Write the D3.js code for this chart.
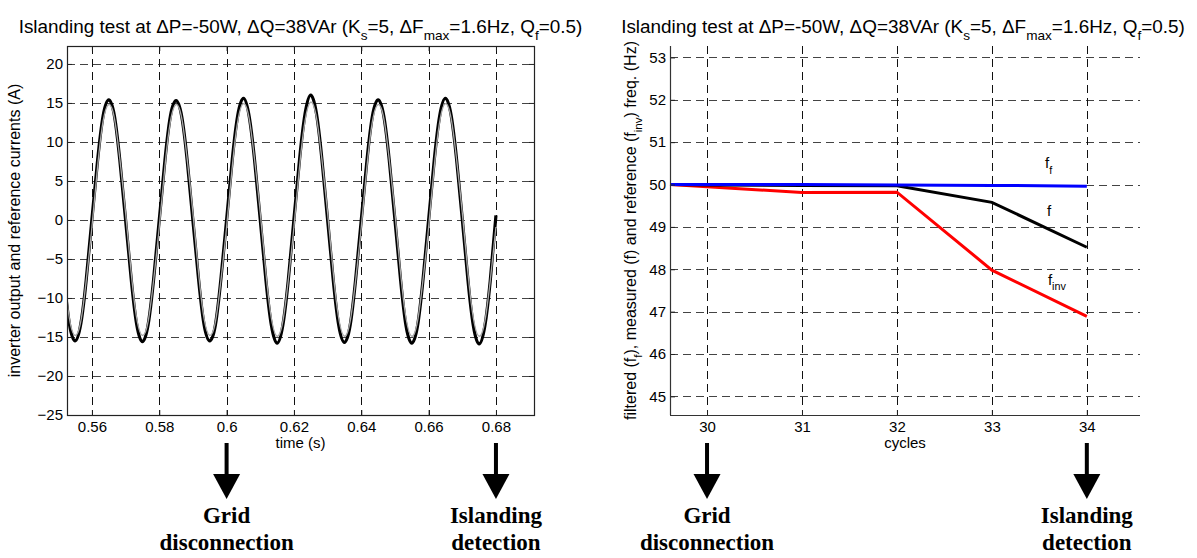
<!DOCTYPE html>
<html><head><meta charset="utf-8">
<script src="https://cdn.jsdelivr.net/npm/d3@7"></script>
<style>
body{margin:0;background:#fff}
svg{display:block}
text{font-family:"Liberation Sans",Arial,Helvetica,sans-serif;fill:#000}
.ann{font-family:"Liberation Serif","Times New Roman",serif;font-weight:bold}
</style>
</head><body>
<svg id="c" width="1197" height="558"></svg>
<script>
// ---------------- DATA ----------------
// Left panel: inverter output current (black) and reference current (gray), A
const timeS = [
  0.5517,0.5533,0.5550,0.5567,0.5583,
  0.5600,0.5617,0.5633,0.5650,0.5667,0.5683,0.5700,0.5717,0.5733,0.5750,0.5767,0.5783,
  0.5800,0.5817,0.5833,0.5850,0.5867,0.5883,0.5900,0.5917,0.5933,0.5950,0.5967,0.5983,
  0.6000,0.6017,0.6033,0.6050,0.6067,0.6083,0.6100,0.6117,0.6133,0.6150,0.6167,0.6183,
  0.6200,0.6217,0.6233,0.6250,0.6267,0.6283,0.6300,0.6317,0.6333,0.6350,0.6367,0.6383,
  0.6400,0.6417,0.6433,0.6450,0.6467,0.6483,0.6500,0.6517,0.6533,0.6550,0.6567,0.6583,
  0.6600,0.6617,0.6633,0.6650,0.6667,0.6683,0.6700,0.6717,0.6733,0.6750,0.6767,0.6783,
  0.6800
];
const inverterCurrent = [
  -7.6,-13.3,-15.5,-13.3,-7.7,
  0.1,7.7,13.3,15.4,13.3,7.6,0.0,-7.7,-13.4,-15.6,-13.4,-7.7,
  0.0,7.7,13.3,15.3,13.2,7.6,-0.1,-7.7,-13.4,-15.5,-13.4,-7.6,
  0.0,7.8,13.4,15.6,13.3,7.7,0.0,-7.8,-13.5,-15.8,-13.5,-7.8,
  0.1,7.9,13.6,16.0,13.6,7.8,0.0,-7.8,-13.5,-15.7,-13.5,-7.7,
  0.0,7.7,13.3,15.4,13.3,7.7,0.0,-7.8,-13.6,-15.8,-13.6,-7.8,
  0.0,7.8,13.4,15.6,13.4,7.8,0.1,-7.8,-13.6,-15.9,-13.6,-7.8,
  0.6
];
const referenceCurrent = [
  -6.9,-12.6,-14.8,-13.0,-7.8,
  -0.9,6.9,12.6,14.8,13.0,7.8,0.9,-6.9,-12.6,-14.8,-13.0,-7.8,
  -0.9,6.9,12.6,14.8,13.0,7.8,0.9,-6.9,-12.6,-14.8,-13.0,-7.8,
  -0.9,6.9,12.6,14.9,13.0,7.8,0.9,-6.9,-12.6,-14.9,-13.0,-7.8,
  -0.9,7.0,12.7,15.1,13.1,7.8,0.9,-6.9,-12.6,-14.9,-13.0,-7.8,
  -0.9,6.9,12.6,14.8,13.0,7.8,0.9,-6.9,-12.6,-14.9,-13.0,-7.8,
  -0.9,6.9,12.6,14.9,13.0,7.8,0.9,-6.9,-12.6,-14.9,-13.0,-7.8,
  -0.9
];
const leftXTicks = [0.56,0.58,0.60,0.62,0.64,0.66,0.68];
const leftXTickLabels = ["0.56","0.58","0.6","0.62","0.64","0.66","0.68"];
const leftYTicks = [-25,-20,-15,-10,-5,0,5,10,15,20];
const leftXDomain = [0.5526,0.6913];
const leftYDomain = [-25,22.3];

// Right panel: frequencies (Hz) vs cycles
const cycles = [29.61,30,31,32,33,34];
const freqFiltered = [50.00,50.00,50.00,49.99,49.98,49.96];   // f_f (blue)
const freqMeasured = [50.00,49.99,49.98,49.97,49.58,48.52];   // f (black)
const freqInverter = [50.00,49.95,49.81,49.82,47.98,46.89];   // f_inv (red)
const rightXTicks = [30,31,32,33,34];
const rightYTicks = [45,46,47,48,49,50,51,52,53];
const rightXDomain = [29.61,34.56];
const rightYDomain = [44.56,53.27];

// Events marked below the axes
const leftEventTimes = [0.60,0.68];
const rightEventCycles = [30,34];
const eventLabels = [["Grid","disconnection"],["Islanding","detection"]];

// ---------------- DRAW ----------------
const svg = d3.select("#c");
const L = {x0:67,x1:534,y0:46,y1:415};
const R = {x0:670,x1:1140,y0:46,y1:415};
const tickFont = 15;

const xL = d3.scaleLinear().domain(leftXDomain).range([L.x0,L.x1]);
const yL = d3.scaleLinear().domain(leftYDomain).range([L.y1,L.y0]);
const xR = d3.scaleLinear().domain(rightXDomain).range([R.x0,R.x1]);
const yR = d3.scaleLinear().domain(rightYDomain).range([R.y1,R.y0]);

function grid(g, P, xs, ys, xv, yv){
  g.append("g").selectAll("line").data(yv).join("line")
    .attr("x1",P.x0).attr("x2",P.x1)
    .attr("y1",d=>Math.round(ys(d))+0.5).attr("y2",d=>Math.round(ys(d))+0.5)
    .attr("stroke","#444").attr("stroke-width",1.1).attr("stroke-dasharray","8,5");
  g.append("g").selectAll("line").data(xv).join("line")
    .attr("y1",P.y0).attr("y2",P.y1)
    .attr("x1",d=>Math.round(xs(d))+0.5).attr("x2",d=>Math.round(xs(d))+0.5)
    .attr("stroke","#111").attr("stroke-width",1).attr("stroke-dasharray","8,5");
}
function styleAxis(a){
  a.select(".domain").remove();
  a.selectAll(".tick line").attr("stroke","#222");
  a.selectAll("text").attr("font-size",tickFont).attr("font-family","Liberation Sans, Arial, sans-serif");
}

// ----- Left panel -----
const gl = svg.append("g");
grid(gl, L, xL, yL, leftXTicks, leftYTicks.filter(d=>d>-25));
svg.append("clipPath").attr("id","clipL").append("rect")
  .attr("x",L.x0).attr("y",L.y0).attr("width",L.x1-L.x0).attr("height",L.y1-L.y0);
const lineCur = d3.line().x((d,i)=>xL(timeS[i])).y(d=>yL(d)).curve(d3.curveNatural);
gl.append("path").datum(inverterCurrent).attr("d",lineCur).attr("clip-path","url(#clipL)")
  .attr("fill","none").attr("stroke","#000").attr("stroke-width",3.2).attr("stroke-linejoin","round");
gl.append("path").datum(referenceCurrent).attr("d",lineCur).attr("clip-path","url(#clipL)")
  .attr("fill","none").attr("stroke","#a8a8a8").attr("stroke-width",1.3);

let a;
a = gl.append("g").attr("transform",`translate(0,${L.y1})`)
  .call(d3.axisBottom(xL).tickValues(leftXTicks).tickFormat((d,i)=>leftXTickLabels[i]).tickSize(-5).tickPadding(6));
styleAxis(a);
a = gl.append("g").attr("transform",`translate(0,${L.y0})`)
  .call(d3.axisTop(xL).tickValues(leftXTicks).tickFormat("").tickSize(-5));
styleAxis(a);
a = gl.append("g").attr("transform",`translate(${L.x0},0)`)
  .call(d3.axisLeft(yL).tickValues(leftYTicks).tickSize(-5).tickPadding(4));
styleAxis(a);
a = gl.append("g").attr("transform",`translate(${L.x1},0)`)
  .call(d3.axisRight(yL).tickValues(leftYTicks).tickFormat("").tickSize(-5));
styleAxis(a);
gl.append("rect").attr("x",L.x0+0.5).attr("y",L.y0+0.5).attr("width",L.x1-L.x0).attr("height",L.y1-L.y0)
  .attr("fill","none").attr("stroke","#222").attr("stroke-width",1.2);

// ----- Right panel -----
const gr = svg.append("g");
grid(gr, R, xR, yR, rightXTicks, rightYTicks);
const mk = arr => d3.line().x((d,i)=>xR(cycles[i])).y(d=>yR(d))(arr);
gr.append("path").attr("d",mk(freqInverter)).attr("fill","none").attr("stroke","#ff0000").attr("stroke-width",3);
gr.append("path").attr("d",mk(freqMeasured)).attr("fill","none").attr("stroke","#000").attr("stroke-width",3);
gr.append("path").attr("d",mk(freqFiltered)).attr("fill","none").attr("stroke","#0000ff").attr("stroke-width",3);

a = gr.append("g").attr("transform",`translate(0,${R.y1})`)
  .call(d3.axisBottom(xR).tickValues(rightXTicks).tickFormat(d3.format("d")).tickSize(-5).tickPadding(6));
styleAxis(a);
a = gr.append("g").attr("transform",`translate(${R.x0},0)`)
  .call(d3.axisLeft(yR).tickValues(rightYTicks).tickFormat(d3.format("d")).tickSize(-5).tickPadding(4));
styleAxis(a);
gr.append("line").attr("x1",R.x0+0.5).attr("x2",R.x0+0.5).attr("y1",R.y0).attr("y2",R.y1)
  .attr("stroke","#333").attr("stroke-width",1.2);
gr.append("line").attr("x1",R.x0).attr("x2",R.x1).attr("y1",R.y1+0.5).attr("y2",R.y1+0.5)
  .attr("stroke","#333").attr("stroke-width",1.2);

// text with subscripts
function subText(g, x, y, parts, size, anchor, rotate){
  const t = g.append("text").attr("font-size",size).attr("text-anchor",anchor||"start");
  if(rotate){ t.attr("transform",`translate(${x},${y}) rotate(-90)`); }
  else { t.attr("x",x).attr("y",y); }
  let down = false;
  parts.forEach(p=>{
    const isSub = p[1];
    const ts = t.append("tspan").text(p[0]);
    if(isSub && !down){ ts.attr("dy",size*0.38).attr("font-size",size*0.72); down=true; }
    else if(!isSub && down){ ts.attr("dy",-size*0.38); down=false; }
    else if(isSub){ ts.attr("font-size",size*0.72); }
  });
  return t;
}
// series labels (anchored in data units)
subText(gr, xR(33.56), yR(50.39), [["f",false],["f",true]], 15);
subText(gr, xR(33.58), yR(49.26), [["f",false]], 15);
subText(gr, xR(33.59), yR(47.64), [["f",false],["inv",true]], 15);

// titles
const titleParts = [["Islanding test at ΔP=-50W, ΔQ=38VAr (K",false],["s",true],["=5, ΔF",false],["max",true],["=1.6Hz, Q",false],["f",true],["=0.5)",false]];
subText(svg, (L.x0+L.x1)/2, 33, titleParts, 18.9, "middle");
subText(svg, (R.x0+R.x1)/2 - 2, 33, titleParts, 18.9, "middle");

// axis titles
svg.append("text").attr("x",(L.x0+L.x1)/2).attr("y",448).attr("text-anchor","middle").attr("font-size",15).text("time (s)");
svg.append("text").attr("x",(R.x0+R.x1)/2).attr("y",448).attr("text-anchor","middle").attr("font-size",15).text("cycles");
subText(svg, 20, (L.y0+L.y1)/2, [["inverter output and reference currents (A)",false]], 16, "middle", true);
subText(svg, 636, (R.y0+R.y1)/2, [["filtered (f",false],["f",true],["), measured (f) and reference (f",false],["inv",true],[") freq. (Hz)",false]], 16, "middle", true);

// event arrows and annotations
function eventMark(x, lines){
  const g = svg.append("g");
  g.append("rect").attr("x",x-2).attr("y",443).attr("width",4).attr("height",33).attr("fill","#000");
  g.append("path").attr("d",`M${x-13.5},474 L${x+13.5},474 L${x},499 Z`).attr("fill","#000");
  g.append("text").attr("class","ann").attr("x",x).attr("y",523).attr("text-anchor","middle").attr("font-size",23).text(lines[0]);
  g.append("text").attr("class","ann").attr("x",x).attr("y",550).attr("text-anchor","middle").attr("font-size",23).text(lines[1]);
}
leftEventTimes.forEach((t,i)=>eventMark(xL(t), eventLabels[i]));
rightEventCycles.forEach((c,i)=>eventMark(xR(c), eventLabels[i]));
</script>
</body></html>
